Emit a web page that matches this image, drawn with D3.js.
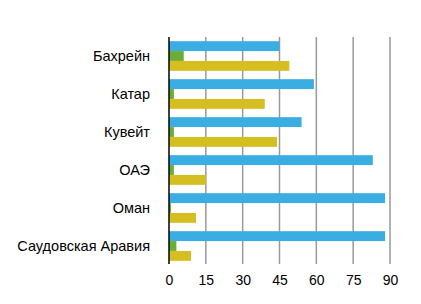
<!DOCTYPE html>
<html>
<head>
<meta charset="utf-8">
<script src="https://cdn.jsdelivr.net/npm/d3@7"></script>
<style>
  body { margin: 0; background: #fff; }
  svg text { font-family: "Liberation Sans", Arial, sans-serif; }
</style>
</head>
<body>
<svg id="chart"></svg>
<script>
const categories = ["Бахрейн", "Катар", "Кувейт", "ОАЭ", "Оман", "Саудовская Аравия"];
const seriesNames = ["a", "b", "c"];
const seriesA = [45, 59, 54, 83, 88, 88];
const seriesB = [6, 2, 2, 2, 0.8, 3];
const seriesC = [49, 39, 44, 15, 11, 9];
const xTicks = [0, 15, 30, 45, 60, 75, 90];
const colors = ["#3aade2", "#6cad36", "#d4be20"];

const width = 421, height = 304;
const margin = { top: 37, right: 31, bottom: 39, left: 169 };
const innerW = width - margin.left - margin.right;
const innerH = height - margin.top - margin.bottom;

const svg = d3.select("#chart").attr("width", width).attr("height", height);
const g = svg.append("g").attr("transform", `translate(${margin.left},${margin.top})`);

const x = d3.scaleLinear().domain([0, 90]).range([0, innerW]);
const y0 = d3.scaleBand().domain(categories).range([0, innerH]).paddingInner(0.22).paddingOuter(0.11);
const y1 = d3.scaleBand().domain(seriesNames).range([0, y0.bandwidth()]);

const rows = categories.map((c, i) => ({ cat: c, vals: [seriesA[i], seriesB[i], seriesC[i]] }));

// gridlines
g.append("g")
  .selectAll("line")
  .data(xTicks.filter(t => t > 0))
  .join("line")
  .attr("x1", d => x(d)).attr("x2", d => x(d))
  .attr("y1", 0).attr("y2", innerH - 1)
  .attr("stroke", "#999").attr("stroke-width", 1.5);

// bars
g.append("g")
  .selectAll("g")
  .data(rows)
  .join("g")
  .attr("transform", d => `translate(0,${y0(d.cat)})`)
  .selectAll("rect")
  .data(d => d.vals.map((v, k) => ({ v, k })))
  .join("rect")
  .attr("x", x(0))
  .attr("y", d => y1(seriesNames[d.k]))
  .attr("width", d => x(d.v) - x(0))
  .attr("height", y1.bandwidth())
  .attr("fill", d => colors[d.k]);

// x axis
const xAxis = g.append("g")
  .attr("transform", `translate(0,${innerH})`)
  .call(d3.axisBottom(x).tickValues(xTicks).tickSize(0).tickPadding(10));
xAxis.select(".domain").remove();
xAxis.selectAll("text").attr("font-size", "14px").attr("fill", "#000")
  .attr("font-family", "Liberation Sans, Arial, sans-serif");

// y axis
const yAxis = g.append("g")
  .call(d3.axisLeft(y0).tickSize(0).tickPadding(19));
yAxis.select(".domain").remove();
yAxis.selectAll("text").attr("font-size", "14.5px").attr("fill", "#000")
  .attr("dy", "0.36em")
  .attr("font-family", "Liberation Sans, Arial, sans-serif");

// axis line
g.append("line")
  .attr("x1", x(0)).attr("x2", x(0))
  .attr("y1", 0).attr("y2", innerH - 1)
  .attr("stroke", "#000").attr("stroke-width", 1.5);
</script>
</body>
</html>
